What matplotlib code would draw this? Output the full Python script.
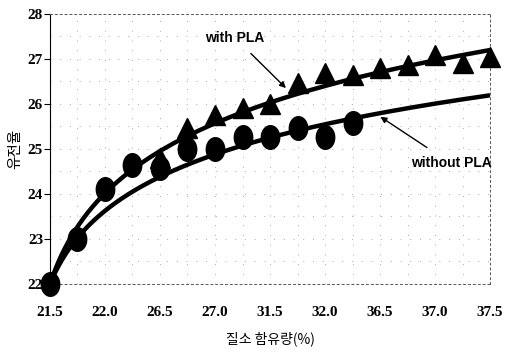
import numpy as np
import matplotlib.pyplot as plt
from matplotlib.path import Path

# category labels on the x axis (as printed in the source figure)
tick_labels = ["21.5", "22.0", "26.5", "27.0", "31.5", "32.0", "36.5", "37.0", "37.5"]

# measured values, one per half step between the labels
without_pla_idx = np.arange(0, 12)
without_pla = [22.0, 23.0, 24.1, 24.65, 24.57, 25.0, 25.0, 25.26, 25.26, 25.46, 25.26, 25.57]

with_pla_idx = np.arange(4, 17)
with_pla = [24.8, 25.46, 25.75, 25.9, 26.0, 26.46, 26.69, 26.64, 26.8, 26.87, 27.09, 26.9, 27.04]

# logarithmic trend lines  y = a + b*ln(n), n = 1..17
trend_with = (22.0, 1.835)
trend_without = (22.0, 1.48)

fig = plt.figure(figsize=(5.07, 3.57), dpi=100)
ax = fig.add_axes([0.0986, 0.2045, 0.8679, 0.7563])

n = np.linspace(1, 17, 300)
ax.plot(n - 1, trend_with[0] + trend_with[1] * np.log(n), color="black", lw=3.2, zorder=3,
        solid_capstyle="butt")
ax.plot(n - 1, trend_without[0] + trend_without[1] * np.log(n), color="black", lw=3.2, zorder=3,
        solid_capstyle="butt")

# slightly tall ellipse marker like the scanned original
t = np.linspace(0, 2 * np.pi, 40)
ellipse = Path(np.column_stack([0.78 * np.cos(t), np.sin(t)]), closed=True)

ax.plot(with_pla_idx, with_pla, ls="none", marker="^", ms=15, color="black", clip_on=False, zorder=4)
ax.plot(without_pla_idx, without_pla, ls="none", marker=ellipse, ms=17, color="black", clip_on=False, zorder=5)

ax.set_xlim(0, 16)
ax.set_ylim(22, 28)
ax.set_xticks(np.arange(0, 17, 2))
ax.set_xticklabels(tick_labels)
ax.set_yticks(np.arange(22, 29))
ax.set_xticks(np.arange(0, 17), minor=True)
ax.set_yticks(np.arange(22, 28.5, 0.5), minor=True)
for lab in ax.get_xticklabels() + ax.get_yticklabels():
    lab.set_fontfamily("Liberation Serif")
    lab.set_fontweight("bold")
    lab.set_fontsize(11)
ax.tick_params(axis="x", length=0, pad=16)
ax.tick_params(axis="y", length=4, direction="out", pad=1)
ax.tick_params(which="minor", length=0)

ax.grid(True, which="both", color="#aaaaaa", ls=(0, (1, 9)), lw=0.7)
for side in ["top", "right", "bottom"]:
    ax.spines[side].set_linestyle((0, (2, 3)))
    ax.spines[side].set_color("#555555")
    ax.spines[side].set_linewidth(0.7)
ax.spines["left"].set_linewidth(0.8)

ax.set_xlabel("질소 함유량(%)", family=["Noto Sans CJK KR", "DejaVu Sans"], fontsize=10, labelpad=9)
ax.set_ylabel("유전율", family=["Noto Sans CJK KR", "DejaVu Sans"], fontsize=10.5, labelpad=4)

ax.annotate("with PLA", xy=(8.65, 26.31), xytext=(6.73, 27.47), fontsize=10, fontweight="bold",
            family="Liberation Sans", ha="center", va="center",
            arrowprops=dict(arrowstyle="-|>", color="black", lw=1.0, shrinkA=6,
                            mutation_scale=9))
ax.annotate("without PLA", xy=(11.93, 25.75), xytext=(14.58, 24.68), fontsize=10, fontweight="bold",
            family="Liberation Sans", ha="center", va="center",
            arrowprops=dict(arrowstyle="-|>", color="black", lw=1.0, shrinkA=8,
                            mutation_scale=9))

fig.savefig("out.png", dpi=100)
